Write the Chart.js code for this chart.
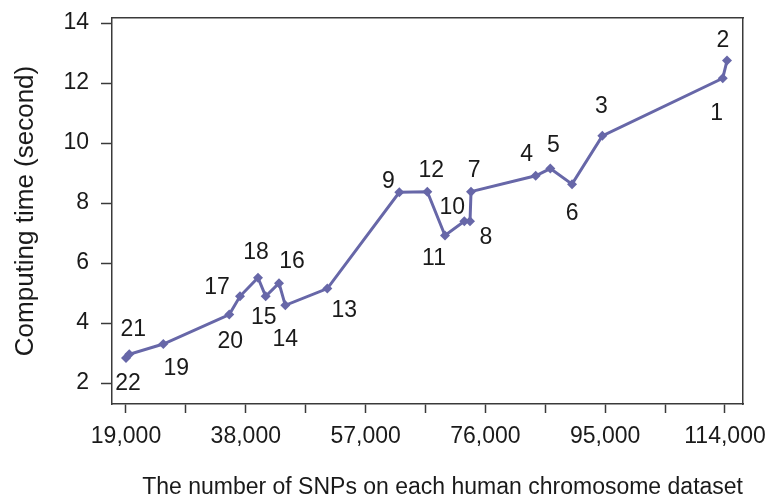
<!DOCTYPE html>
<html>
<head>
<meta charset="utf-8">
<script src="https://cdn.jsdelivr.net/npm/chart.js@4/dist/chart.umd.min.js"></script>
<style>
  html, body { margin: 0; padding: 0; background: #fff; }
  #wrap { width: 767px; height: 504px; }
</style>
</head>
<body>
<div id="wrap"><canvas id="snp-chart" width="767" height="504"></canvas></div>
<script>
// chromosome numbers, in the order the line joins them (by SNP count)
var chromosomes = [22, 21, 19, 20, 17, 18, 15, 16, 14, 13, 9, 12, 11, 10, 8, 7, 4, 5, 6, 3, 1, 2];
var snpCounts = [19000, 19520, 24920, 35380, 37080, 39935, 41155, 43265, 44265, 50925, 62345,
                 66790, 69590, 72655, 73560, 73720, 83980, 86300, 89740, 94540, 113640, 114320];
var computeTimes = [2.83, 2.96, 3.30, 4.28, 4.89, 5.51, 4.89, 5.33, 4.59, 5.15, 8.36,
                    8.38, 6.92, 7.39, 7.39, 8.38, 8.91, 9.15, 8.63, 10.24, 12.16, 12.75];
var xTicks = [19000, 28500, 38000, 47500, 57000, 66500, 76000, 85500, 95000, 104500, 114000];
var yTicks = [2, 4, 6, 8, 10, 12, 14];

// where each chromosome label sits relative to its point (px)
var labelOffsets = [[2, 26], [4, -25], [13, 25], [1, 27], [-23, -9], [-2, -25], [-2, 21], [13, -21],
                    [0, 34], [17, 22], [-11, -11], [4, -21], [-11, 23], [-12, -14], [16, 16], [3, -21],
                    [-9, -21], [3, -23], [0, 29], [-1, -29], [-6, 35], [-4, -20]];

var lineColor = '#6767a8';
var axisColor = '#3a3a3a';
var fontFamily = '"Liberation Sans", Arial, sans-serif';

var pointLabels = {
  id: 'pointLabels',
  afterDatasetsDraw: function(chart) {
    var ctx = chart.ctx;
    var meta = chart.getDatasetMeta(0);
    ctx.save();
    ctx.font = '23px ' + fontFamily;
    ctx.fillStyle = '#1a1a1a';
    ctx.textAlign = 'center';
    ctx.textBaseline = 'middle';
    meta.data.forEach(function(pt, i) {
      var off = labelOffsets[i];
      ctx.fillText(String(chromosomes[i]), pt.x + off[0], pt.y + off[1]);
    });
    ctx.restore();
  }
};

// keep the plot box where the reference has it, ignoring label overflow
function noOverflow(scale) {
  scale.paddingTop = 0;
  scale.paddingBottom = 0;
  scale.paddingLeft = 0;
  scale.paddingRight = 0;
}

new Chart(document.getElementById('snp-chart').getContext('2d'), {
  type: 'scatter',
  data: {
    datasets: [{
      label: 'Computing time',
      data: snpCounts.map(function(x, i) { return { x: x, y: computeTimes[i] }; }),
      showLine: true,
      borderColor: lineColor,
      backgroundColor: lineColor,
      borderWidth: 3,
      pointStyle: 'rectRot',
      pointRadius: 5,
      pointBorderWidth: 0,
      tension: 0
    }]
  },
  options: {
    responsive: false,
    animation: false,
    layout: { padding: { top: 18, right: 24, left: 0, bottom: 0 } },
    plugins: {
      legend: { display: false },
      tooltip: { enabled: false }
    },
    scales: {
      x: {
        type: 'linear',
        min: 16780,
        max: 116855,
        afterBuildTicks: function(scale) {
          scale.ticks = xTicks.map(function(v) { return { value: v }; });
        },
        afterFit: function(scale) { scale.height = 100; noOverflow(scale); },
        grid: {
          display: true,
          drawOnChartArea: false,
          drawTicks: true,
          tickLength: 9,
          tickWidth: 1.5,
          tickColor: axisColor
        },
        border: { display: true, color: axisColor, width: 1.5 },
        ticks: {
          autoSkip: false,
          maxRotation: 0,
          padding: 10,
          color: '#1a1a1a',
          font: { family: fontFamily, size: 23 },
          callback: function(v) {
            return (v - 19000) % 19000 === 0 ? v.toLocaleString('en-US') : '';
          }
        },
        title: {
          display: true,
          align: 'end',
          text: 'The number of SNPs on each human chromosome dataset',
          color: '#1a1a1a',
          font: { family: fontFamily, size: 23 },
          padding: { top: 0, bottom: 3 }
        }
      },
      y: {
        type: 'linear',
        min: 1.3,
        max: 14.17,
        afterBuildTicks: function(scale) {
          scale.ticks = yTicks.map(function(v) { return { value: v }; });
        },
        afterFit: function(scale) { scale.width = 112; noOverflow(scale); },
        grid: {
          display: true,
          drawOnChartArea: false,
          drawTicks: true,
          tickLength: 11,
          tickWidth: 1.5,
          tickColor: axisColor
        },
        border: { display: true, color: axisColor, width: 1.5 },
        ticks: {
          padding: 12,
          color: '#1a1a1a',
          font: { family: fontFamily, size: 23 }
        },
        title: {
          display: true,
          text: 'Computing time (second)',
          color: '#1a1a1a',
          font: { family: fontFamily, size: 26 },
          padding: { top: 10, bottom: 0 }
        }
      },
      x2: {
        type: 'linear',
        position: 'top',
        display: true,
        min: 0, max: 1,
        grid: { display: false, drawTicks: false },
        border: { display: true, color: axisColor, width: 1.5 },
        ticks: { display: false },
        afterFit: function(scale) { scale.height = 0; noOverflow(scale); }
      },
      y2: {
        type: 'linear',
        position: 'right',
        display: true,
        min: 0, max: 1,
        grid: { display: false, drawTicks: false },
        border: { display: true, color: axisColor, width: 1.5 },
        ticks: { display: false },
        afterFit: function(scale) { scale.width = 0; noOverflow(scale); }
      }
    }
  },
  plugins: [pointLabels]
});
</script>
</body>
</html>
